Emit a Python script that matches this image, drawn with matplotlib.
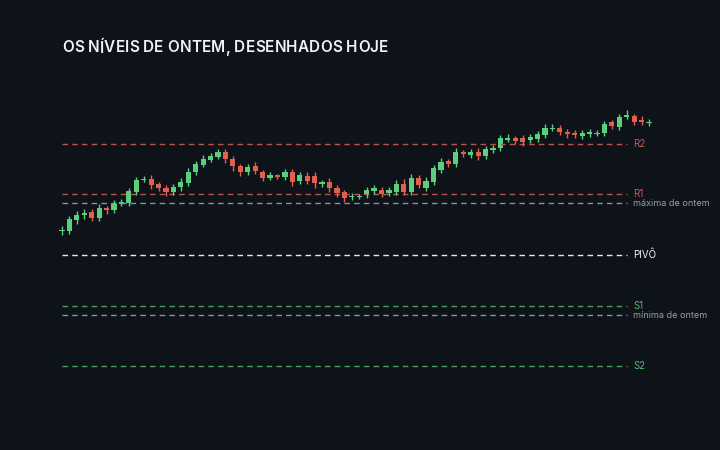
import matplotlib
matplotlib.use('Agg')
import matplotlib.pyplot as plt
from matplotlib.patches import Rectangle

# candle data (arbitrary price units)
opens = [169, 169, 180, 185, 188, 182, 192, 190, 196, 197, 208, 220, 221, 216, 212, 208, 213, 217, 228, 235,
         240, 243, 248, 241, 234, 228, 234, 228, 222, 225, 223, 228, 219, 224, 224, 216, 218, 212, 208, 203,
         203, 205, 209, 210, 207, 208, 216, 208, 222, 212, 218, 230, 239, 236, 248, 245, 248, 244, 250, 252,
         260, 262, 262, 260, 261, 265, 271, 272, 268, 267, 264, 266, 266, 267, 278, 273, 283, 284, 280, 277]
closes = [170, 181, 185, 187, 182, 192, 190, 196, 198, 209, 220, 221, 215, 212, 208, 213, 218, 228, 236, 241,
          244, 248, 241, 234, 228, 233, 229, 222, 225, 223, 228, 218, 225, 219, 217, 218, 212, 207, 202, 204,
          204, 210, 212, 206, 210, 216, 208, 222, 215, 219, 232, 238, 236, 248, 246, 248, 244, 251, 252, 262,
          262, 259, 258, 263, 266, 272, 272, 268, 266, 265, 267, 268, 267, 276, 274, 283, 285, 278, 278, 278]
highs = [174, 184, 189, 191, 191, 196, 194, 200, 201, 212, 223, 224, 225, 218, 215, 216, 222, 232, 239, 245,
         247, 251, 251, 244, 236, 236, 238, 230, 228, 226, 231, 231, 228, 228, 228, 220, 222, 215, 210, 207,
         206, 213, 215, 213, 213, 220, 221, 226, 225, 223, 235, 242, 241, 252, 250, 251, 252, 254, 255, 265,
         266, 264, 265, 266, 269, 276, 276, 275, 271, 270, 270, 271, 270, 279, 280, 286, 290, 286, 284, 281]
lows = [165, 166, 176, 181, 179, 179, 186, 187, 194, 194, 205, 218, 211, 209, 204, 205, 209, 214, 225, 233,
        238, 241, 237, 229, 224, 225, 226, 219, 220, 221, 220, 214, 216, 216, 212, 213, 208, 203, 198, 200,
        201, 202, 206, 203, 204, 205, 205, 205, 212, 209, 215, 227, 233, 233, 243, 242, 240, 241, 247, 249,
        258, 256, 254, 257, 258, 262, 269, 265, 262, 262, 261, 263, 264, 264, 271, 270, 281, 275, 275, 274]

level_names = ['R2', 'R1', 'máxima de ontem', 'PIVÔ', 'S1', 'mínima de ontem', 'S2']
level_values = [256, 206, 197, 145, 94, 85, 34]
level_colors = ['#b9544a', '#b9544a', '#8c929a', '#e6e8ea', '#4a9e5c', '#8c929a', '#4a9e5c']
label_colors = ['#c85a4c', '#c85a4c', '#9aa0a6', '#f2f3f4', '#55b868', '#9aa0a6', '#55b868']

bg = '#0e131a'
up_c = '#5ccf7e'
down_c = '#e0604c'

fig = plt.figure(figsize=(7.2, 4.5), dpi=100, facecolor=bg)
ax = fig.add_axes([0, 0, 1, 1])
ax.set_facecolor(bg)
ax.set_xlim(-8.34, 88.55)
ax.set_ylim(-50, 400)
ax.axis('off')

for name, v, lc, tc in zip(level_names, level_values, level_colors, label_colors):
    ax.plot([0, 76.0], [v, v], color=lc, lw=1.0, dashes=(4, 3))
    small = name in ('máxima de ontem', 'mínima de ontem')
    ax.text(76.9, v, name, color=tc, fontsize=6.5 if small else 7, va='center', ha='left',
            family='Inter')

w = 0.7
for i, (o, c, h, l) in enumerate(zip(opens, closes, highs, lows)):
    col = up_c if c >= o else down_c
    ax.plot([i, i], [l, h], color=col, lw=1.0, solid_capstyle='butt')
    bottom = min(o, c)
    height = max(abs(c - o), 1.5)
    ax.add_patch(Rectangle((i - w / 2, bottom), w, height, facecolor=col, edgecolor='none'))

# title with a little letter spacing
title = 'OS NÍVEIS DE ONTEM, DESENHADOS HOJE'
t = fig.text(62 / 720, 1 - 48 / 450, title, color='#f0f2f4',
             fontsize=11, fontweight='semibold', family='Inter', va='center', ha='left')
fig.canvas.draw()
r = fig.canvas.get_renderer()
tw = t.get_window_extent(r).width
target = 390 - 62
if tw < target:
    t.remove()
    x = 62.0
    extra = (target - tw) / (len(title) - 1)
    for ch in title:
        tt = fig.text(x / 720, 1 - 48 / 450, ch, color='#f0f2f4', fontsize=11,
                      fontweight='semibold', family='Inter', va='center', ha='left')
        x += tt.get_window_extent(r).width + extra if ch != ' ' else 3.5 + extra

fig.savefig('out.png', dpi=100, facecolor=bg)
